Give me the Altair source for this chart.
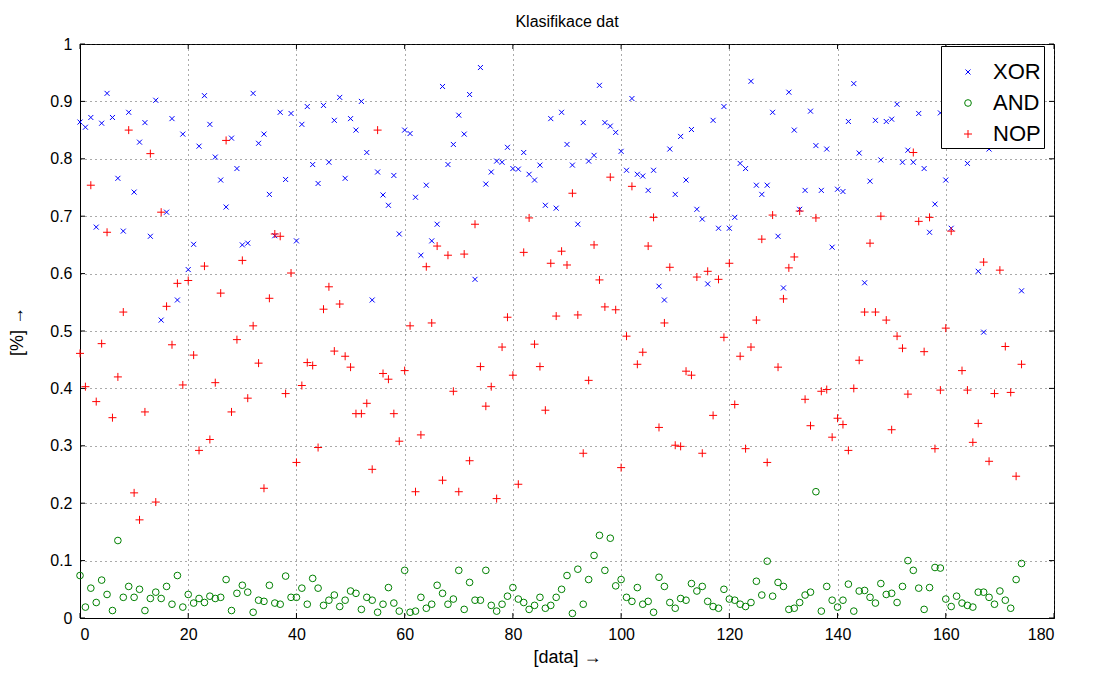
import altair as alt
import pandas as pd

# ---------------- data ----------------
series_names = ["XOR", "AND", "NOP"]
series_colors = ["#0000ff", "#008000", "#ff0000"]

xor_vals = [
    0.864, 0.855, 0.872, 0.681, 0.862, 0.914, 0.872, 0.766, 0.674, 0.881,
    0.742, 0.829, 0.863, 0.665, 0.902, 0.519, 0.707, 0.870, 0.554, 0.843,
    0.607, 0.651, 0.822, 0.910, 0.860, 0.803, 0.763, 0.716, 0.836, 0.783,
    0.650, 0.653, 0.914, 0.827, 0.843, 0.738, 0.666, 0.881, 0.764, 0.879,
    0.657, 0.860, 0.891, 0.790, 0.757, 0.893, 0.794, 0.867, 0.907, 0.766,
    0.870, 0.850, 0.900, 0.811, 0.554, 0.777, 0.737, 0.719, 0.771, 0.669,
    0.850, 0.844, 0.733, 0.632, 0.754, 0.657, 0.686, 0.926, 0.790, 0.825,
    0.876, 0.843, 0.912, 0.590, 0.959, 0.756, 0.777, 0.796, 0.794, 0.820,
    0.783, 0.782, 0.811, 0.773, 0.763, 0.789, 0.719, 0.870, 0.714, 0.881,
    0.825, 0.789, 0.686, 0.863, 0.796, 0.806, 0.928, 0.863, 0.857, 0.846,
    0.813, 0.780, 0.905, 0.773, 0.770, 0.745, 0.780, 0.578, 0.554, 0.817,
    0.738, 0.839, 0.763, 0.851, 0.712, 0.695, 0.582, 0.867, 0.679, 0.891,
    0.679, 0.698, 0.792, 0.783, 0.935, 0.754, 0.738, 0.754, 0.881, 0.665,
    0.575, 0.916, 0.850, 0.712, 0.745, 0.883, 0.823, 0.745, 0.817, 0.646,
    0.747, 0.743, 0.865, 0.931, 0.810, 0.584, 0.761, 0.867, 0.798, 0.865,
    0.869, 0.895, 0.794, 0.815, 0.794, 0.879, 0.783, 0.672, 0.721, 0.880,
    0.763, 0.679, 0.860, 0.910, 0.792, 0.840, 0.604, 0.498, 0.817, 0.870,
    0.830, 0.900, 0.850, 0.880, 0.570,
]

and_vals = [
    0.074, 0.019, 0.052, 0.027, 0.066, 0.041, 0.013, 0.135, 0.036, 0.055,
    0.036, 0.050, 0.013, 0.034, 0.045, 0.034, 0.055, 0.024, 0.074, 0.019,
    0.041, 0.026, 0.034, 0.027, 0.038, 0.034, 0.036, 0.067, 0.013, 0.043,
    0.057, 0.045, 0.010, 0.031, 0.029, 0.057, 0.026, 0.024, 0.073, 0.036,
    0.036, 0.052, 0.024, 0.069, 0.052, 0.022, 0.031, 0.040, 0.020, 0.031,
    0.047, 0.043, 0.015, 0.036, 0.031, 0.010, 0.024, 0.053, 0.026, 0.012,
    0.083, 0.010, 0.012, 0.036, 0.017, 0.024, 0.057, 0.043, 0.024, 0.033,
    0.083, 0.015, 0.062, 0.031, 0.031, 0.083, 0.022, 0.012, 0.024, 0.038,
    0.053, 0.033, 0.027, 0.015, 0.022, 0.036, 0.017, 0.022, 0.036, 0.050,
    0.074, 0.008, 0.085, 0.024, 0.067, 0.109, 0.144, 0.083, 0.139, 0.056,
    0.067, 0.036, 0.029, 0.053, 0.024, 0.029, 0.010, 0.071, 0.055, 0.027,
    0.017, 0.034, 0.031, 0.060, 0.047, 0.055, 0.029, 0.020, 0.017, 0.050,
    0.033, 0.031, 0.024, 0.020, 0.027, 0.064, 0.040, 0.099, 0.038, 0.062,
    0.055, 0.015, 0.017, 0.027, 0.040, 0.045, 0.220, 0.012, 0.055, 0.031,
    0.019, 0.031, 0.059, 0.012, 0.047, 0.048, 0.036, 0.026, 0.060, 0.041,
    0.043, 0.027, 0.055, 0.100, 0.083, 0.052, 0.015, 0.053, 0.088, 0.087,
    0.033, 0.020, 0.038, 0.026, 0.022, 0.019, 0.045, 0.045, 0.036, 0.024,
    0.047, 0.031, 0.017, 0.067, 0.095,
]

nop_vals = [
    0.461, 0.403, 0.754, 0.377, 0.478, 0.672, 0.349, 0.420, 0.533, 0.850,
    0.218, 0.171, 0.359, 0.809, 0.202, 0.707, 0.543, 0.476, 0.583, 0.406,
    0.588, 0.458, 0.292, 0.613, 0.311, 0.410, 0.566, 0.832, 0.359, 0.485,
    0.623, 0.383, 0.509, 0.444, 0.226, 0.557, 0.669, 0.665, 0.391, 0.601,
    0.271, 0.405, 0.445, 0.440, 0.297, 0.538, 0.577, 0.465, 0.547, 0.456,
    0.437, 0.356, 0.356, 0.374, 0.259, 0.850, 0.426, 0.416, 0.356, 0.308,
    0.431, 0.509, 0.220, 0.319, 0.612, 0.514, 0.648, 0.240, 0.632, 0.395,
    0.220, 0.634, 0.274, 0.686, 0.438, 0.369, 0.403, 0.208, 0.472, 0.524,
    0.423, 0.233, 0.637, 0.697, 0.477, 0.438, 0.362, 0.618, 0.526, 0.639,
    0.615, 0.740, 0.528, 0.287, 0.414, 0.650, 0.589, 0.542, 0.768, 0.537,
    0.262, 0.491, 0.752, 0.442, 0.463, 0.648, 0.698, 0.332, 0.514, 0.611,
    0.301, 0.299, 0.430, 0.423, 0.594, 0.287, 0.604, 0.353, 0.590, 0.489,
    0.618, 0.372, 0.456, 0.295, 0.472, 0.519, 0.660, 0.271, 0.702, 0.437,
    0.556, 0.610, 0.629, 0.709, 0.381, 0.335, 0.697, 0.395, 0.398, 0.315,
    0.348, 0.337, 0.292, 0.400, 0.449, 0.533, 0.653, 0.533, 0.700, 0.519,
    0.328, 0.491, 0.470, 0.390, 0.811, 0.691, 0.464, 0.698, 0.295, 0.397,
    0.505, 0.674, 0.840, 0.431, 0.397, 0.306, 0.339, 0.620, 0.273, 0.391,
    0.606, 0.473, 0.393, 0.247, 0.442,
]

x_ticks = [0, 20, 40, 60, 80, 100, 120, 140, 160, 180]
y_ticks = [0, 0.1, 0.2, 0.3, 0.4, 0.5, 0.6, 0.7, 0.8, 0.9, 1]

# ---------------- tables ----------------
rows = []
for name, vals in zip(series_names, [xor_vals, and_vals, nop_vals]):
    for i, v in enumerate(vals):
        rows.append({"i": i, "v": v, "s": name})
df = pd.DataFrame(rows)
xt = pd.DataFrame({"i": x_ticks})
yt = pd.DataFrame({"v": y_ticks})

W, H = 974, 574
FONT = "Liberation Sans"
xscale = alt.Scale(domain=[0, 180], nice=False, zero=False)
yscale = alt.Scale(domain=[0, 1], nice=False, zero=False)
x_axis = alt.Axis(values=x_ticks, title="[data] →", format="d")
y_axis = alt.Axis(values=y_ticks, title="[%] →", format="~g")

shape_range = [
    "M-1,-1L1,1M1,-1L-1,1",   # x marker
    "circle",
    "M-1,0L1,0M0,-1L0,1",     # + marker
]

legend = alt.Legend(
    title=" ", titleFontSize=12, titlePadding=0,
    orient="none", legendX=861, legendY=2,
    strokeColor="black", fillColor="white", padding=3,
    labelFont=FONT, labelFontSize=22, labelColor="black",
    labelExpr="datum.label + '\u00a0'",
    symbolOffset=13, labelOffset=14, rowPadding=9,
    symbolStrokeWidth=1,
)

points = alt.Chart(df).mark_point(filled=False, strokeWidth=1, opacity=1).encode(
    x=alt.X("i:Q", scale=xscale, axis=x_axis),
    y=alt.Y("v:Q", scale=yscale, axis=y_axis),
    color=alt.Color("s:N", scale=alt.Scale(domain=series_names, range=series_colors), legend=legend),
    shape=alt.Shape("s:N", scale=alt.Scale(domain=series_names, range=shape_range), legend=legend),
    size=alt.Size("s:N", scale=alt.Scale(domain=series_names, range=[25, 64, 64]), legend=legend),
)

tick_len = 5
bottom_ticks = alt.Chart(xt).mark_rule(color="black", strokeWidth=1).encode(
    x=alt.X("i:Q", scale=xscale, axis=x_axis), y=alt.value(H), y2=alt.value(H - tick_len))
top_ticks = alt.Chart(xt).mark_rule(color="black", strokeWidth=1).encode(
    x=alt.X("i:Q", scale=xscale, axis=x_axis), y=alt.value(0), y2=alt.value(tick_len))
left_ticks = alt.Chart(yt).mark_rule(color="black", strokeWidth=1).encode(
    y=alt.Y("v:Q", scale=yscale, axis=y_axis), x=alt.value(0), x2=alt.value(tick_len))
right_ticks = alt.Chart(yt).mark_rule(color="black", strokeWidth=1).encode(
    y=alt.Y("v:Q", scale=yscale, axis=y_axis), x=alt.value(W), x2=alt.value(W - tick_len))

chart = alt.layer(bottom_ticks, top_ticks, left_ticks, right_ticks, points).properties(
    width=W, height=H,
    title=alt.TitleParams("Klasifikace dat", font=FONT, fontSize=16, fontWeight="normal",
                          color="black", offset=6),
    autosize=alt.AutoSizeParams(type="none"),
    padding={"left": 72, "top": 36, "right": 40, "bottom": 50},
).configure_view(
    stroke="black", strokeWidth=1
).configure_axis(
    domainColor="black", domainWidth=1, ticks=False, labelPadding=8,
    labelFont=FONT, labelFontSize=16, labelColor="black",
    titleFont=FONT, titleFontSize=18, titleFontWeight="normal", titleColor="black",
    grid=True, gridColor="#444444", gridDash=[1, 4], gridWidth=1, gridOpacity=0.9,
).configure_axisX(titlePadding=6).configure_axisY(titlePadding=23)

chart.save("out.html", embed_options={"renderer": "svg", "actions": False})
